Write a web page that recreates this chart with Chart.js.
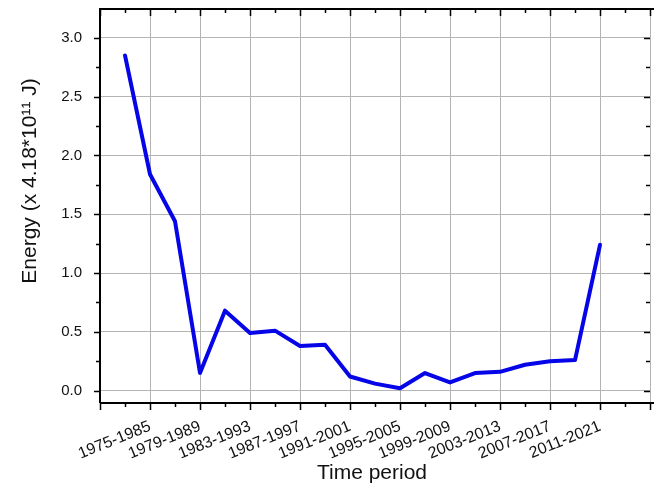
<!DOCTYPE html>
<html>
<head>
<meta charset="utf-8">
<script src="https://cdn.jsdelivr.net/npm/chart.js@4/dist/chart.umd.min.js"></script>
<style>
  html, body { margin: 0; padding: 0; background: #fff; }
  #c { display: block; }
</style>
</head>
<body>
<canvas id="c" width="654" height="492"></canvas>
<script>
// ---- data ----
const startYears = [1973, 1975, 1977, 1979, 1981, 1983, 1985, 1987, 1989, 1991,
                    1993, 1995, 1997, 1999, 2001, 2003, 2005, 2007, 2009, 2011];
const energy = [2.85, 1.84, 1.44, 0.15, 0.68, 0.49, 0.51, 0.38, 0.39, 0.12,
                0.06, 0.02, 0.15, 0.07, 0.15, 0.16, 0.22, 0.25, 0.26, 1.24];
const tickLabels = ["1975-1985", "1979-1989", "1983-1993", "1987-1997", "1991-2001",
                    "1995-2005", "1999-2009", "2003-2013", "2007-2017", "2011-2021"];
const yTickValues = [0.0, 0.5, 1.0, 1.5, 2.0, 2.5, 3.0];
const xTitle = "Time period";
const yTitle = "Energy (x 4.18*10\u00B9\u00B9 J)";

const labelMap = {};
tickLabels.forEach(l => { labelMap[parseInt(l.slice(0, 4))] = l; });

const X_MIN = 1971, X_MAX = 2015, Y_MIN = -0.105, Y_MAX = 3.245;
const FONT = "'Liberation Sans', Arial, sans-serif";
const GRID = '#b4b4b4';

const isMajorX = v => ((v - X_MIN) % 4) === 0;
const isMajorY = v => Math.abs(v * 2 - Math.round(v * 2)) < 1e-6;

const zeroPad = s => { s.paddingTop = 0; s.paddingBottom = 0; s.paddingLeft = 0; s.paddingRight = 0; };

const framePlugin = {
  id: 'frame',
  afterDraw(chart) {
    const {ctx, chartArea: a, scales} = chart;
    const xs = scales.x, ys = scales.y;
    ctx.save();
    ctx.strokeStyle = '#000';
    ctx.lineWidth = 2;
    ctx.beginPath();
    ctx.moveTo(a.left, a.bottom); ctx.lineTo(a.left, a.top);
    ctx.lineTo(a.right + 4, a.top);
    ctx.moveTo(a.left, a.bottom); ctx.lineTo(a.right + 4, a.bottom);
    ctx.stroke();
    // x ticks (bottom outward, top inward)
    ctx.lineWidth = 1.5;
    ctx.beginPath();
    for (let v = X_MIN; v <= X_MAX; v += 2) {
      const px = Math.round(xs.getPixelForValue(v)) + 0.5;
      const len = isMajorX(v) ? 7 : 4;
      ctx.moveTo(px, a.bottom); ctx.lineTo(px, a.bottom + len);
      ctx.moveTo(px, a.top); ctx.lineTo(px, a.top + len);
    }
    // y ticks (left outward, right inward)
    for (let v = 0; v <= 3.0001; v += 0.25) {
      const py = Math.round(ys.getPixelForValue(v)) + 0.5;
      const len = isMajorY(v) ? 6 : 4;
      ctx.moveTo(a.left, py); ctx.lineTo(a.left - len, py);
      ctx.moveTo(a.right, py); ctx.lineTo(a.right - len, py);
    }
    ctx.stroke();
    // titles
    ctx.fillStyle = '#111';
    ctx.font = '21px ' + FONT;
    ctx.textAlign = 'center';
    ctx.textBaseline = 'middle';
    ctx.fillText(xTitle, 372, 473);
    ctx.translate(30, 181);
    ctx.rotate(-Math.PI / 2);
    ctx.fillText(yTitle, 0, 0);
    ctx.restore();
  }
};

new Chart(document.getElementById('c'), {
  type: 'line',
  data: {
    datasets: [{
      data: startYears.map((y, i) => ({x: y, y: energy[i]})),
      borderColor: '#0505e8',
      borderWidth: 4,
      pointRadius: 0,
      tension: 0,
      fill: false,
      borderJoinStyle: 'round',
      borderCapStyle: 'round'
    }]
  },
  options: {
    responsive: false,
    animation: false,
    devicePixelRatio: 1,
    layout: { padding: { left: 0, right: 4, top: 9, bottom: 0 } },
    plugins: { legend: { display: false }, tooltip: { enabled: false } },
    scales: {
      x: {
        type: 'linear',
        min: X_MIN, max: X_MAX,
        afterBuildTicks(s) {
          const t = [];
          for (let v = X_MIN; v <= X_MAX; v += 2) t.push({value: v});
          s.ticks = t;
        },
        afterFit(s) { s.height = 89; zeroPad(s); },
        border: { display: false },
        grid: {
          drawTicks: false,
          color: c => (c.tick && isMajorX(c.tick.value) && c.tick.value !== X_MIN) ? GRID : 'rgba(0,0,0,0)',
          lineWidth: 1
        },
        ticks: {
          autoSkip: false,
          minRotation: 22, maxRotation: 22,
          padding: 14,
          color: '#111',
          font: { family: FONT, size: 16 },
          callback: v => labelMap[v] || ''
        }
      },
      y: {
        min: Y_MIN, max: Y_MAX,
        afterBuildTicks(s) {
          const t = [];
          for (let i = 0; i <= 12; i++) t.push({value: i * 0.25});
          s.ticks = t;
        },
        afterFit(s) { s.width = 100; zeroPad(s); },
        border: { display: false },
        grid: {
          drawTicks: false,
          color: c => (c.tick && isMajorY(c.tick.value)) ? GRID : 'rgba(0,0,0,0)',
          lineWidth: 1
        },
        ticks: {
          autoSkip: false,
          padding: 18,
          color: '#111',
          font: { family: FONT, size: 15 },
          callback: v => isMajorY(v) && yTickValues.some(t => Math.abs(t - v) < 1e-6) ? v.toFixed(1) : ''
        }
      }
    }
  },
  plugins: [framePlugin]
});
</script>
</body>
</html>
